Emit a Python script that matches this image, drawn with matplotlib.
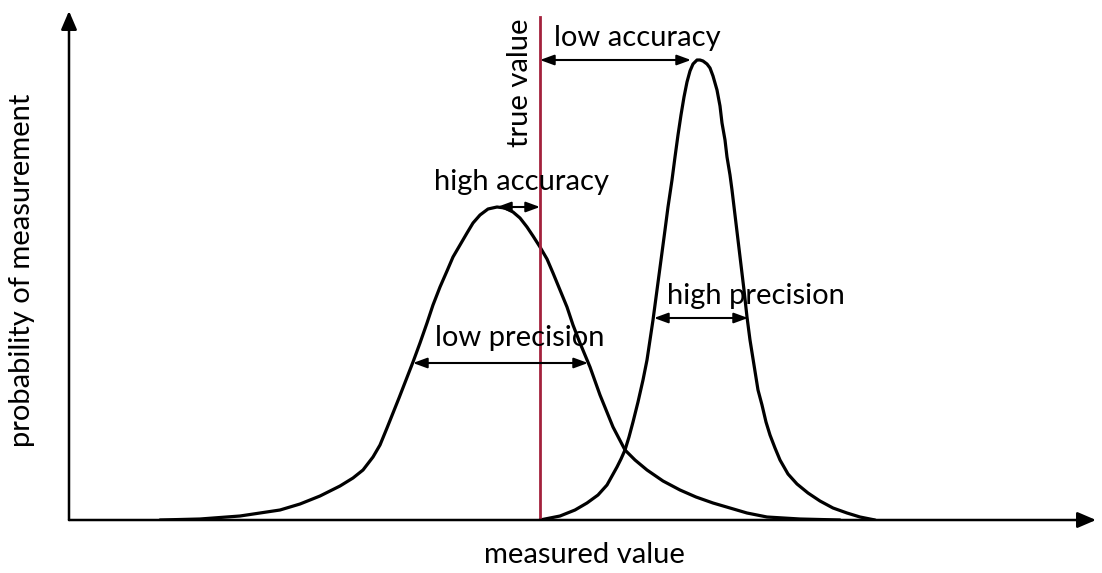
import matplotlib.pyplot as plt

plt.rcParams["font.family"] = ["Lato", "DejaVu Sans"]

wide_x = [91, 131, 171, 211, 231, 251, 271, 284, 294, 304,
          311, 318, 324, 330, 337, 344, 351, 358, 364, 371,
          378, 384, 391, 398, 404, 411, 419, 428, 436, 444,
          451, 458, 464, 471, 478, 484, 491, 498, 504, 511,
          521, 531, 544, 556, 566, 578, 594, 611, 627, 644,
          678, 698, 731, 771]
wide_y = [0, 1, 4, 10, 16, 24, 34, 42, 50, 63,
          75, 92, 107, 122, 140, 158, 177, 197, 215, 233,
          249, 263, 275, 287, 297, 305, 311, 313, 312, 308,
          302, 293, 284, 273, 261, 247, 230, 213, 195, 177,
          153, 125, 93, 70, 60, 50, 39, 30, 23, 17,
          7, 3, 1, 0]

narrow_x = [471, 491, 506, 518, 529, 538, 548, 552, 556, 560, 564, 569,
            574, 578, 581, 584, 588, 592, 596, 599, 603, 606,
            609, 612, 615, 618, 621, 624, 628, 631, 634, 638,
            641, 644, 648, 651, 653, 656, 658, 661, 663, 666,
            669, 672, 675, 678, 681, 685, 689, 693, 697, 701,
            706, 711, 719, 728, 739, 751, 764, 778, 791, 806]
narrow_y = [0, 4, 10, 17, 25, 35, 53, 61, 70, 83, 98, 118,
            140, 160, 180, 200, 230, 260, 290, 313, 340, 363,
            385, 405, 423, 438, 449, 456, 460, 460, 459, 456,
            452, 444, 430, 414, 397, 380, 363, 345, 330, 305,
            280, 255, 230, 203, 180, 155, 130, 115, 98, 85,
            72, 60, 46, 36, 27, 19, 12, 7, 3, 0]

true_value = 471
wide_peak = (428, 313)
narrow_peak = (622, 460)
wide_halfwidth = (344, 519, 157)
narrow_halfwidth = (585, 679, 202)

fig = plt.figure(figsize=(11.02, 5.73), dpi=100)
ax = fig.add_axes([69 / 1102, 53 / 573, 1021 / 1102, 505 / 573])
ax.set_xlim(0, 1021)
ax.set_ylim(0, 505)
ax.axis("off")

# axes with arrow heads
axis_style = dict(arrowstyle="-|>,head_length=0.7,head_width=0.3", color="black",
                  lw=1.8, shrinkA=0, shrinkB=0, mutation_scale=16)
ax.annotate("", xy=(1027, 0), xytext=(0, 0), arrowprops=axis_style, annotation_clip=False)
ax.annotate("", xy=(0, 509), xytext=(0, 0), arrowprops=axis_style, annotation_clip=False)

ax.plot(wide_x, wide_y, color="black", lw=2.3, solid_capstyle="round", solid_joinstyle="round")
ax.plot(narrow_x, narrow_y, color="black", lw=2.3, solid_capstyle="round", solid_joinstyle="round")

ax.plot([true_value, true_value], [0, 503], color="#a3213c", lw=2.0)

dbl = dict(arrowstyle="<|-|>,head_length=0.6,head_width=0.22", color="black",
           lw=1.5, shrinkA=0, shrinkB=0, mutation_scale=14)
ax.annotate("", xy=(true_value, narrow_peak[1]), xytext=(narrow_peak[0], narrow_peak[1]),
            arrowprops=dbl)
ax.annotate("", xy=(wide_peak[0], wide_peak[1]), xytext=(true_value, wide_peak[1]),
            arrowprops=dbl)
ax.annotate("", xy=(wide_halfwidth[0], wide_halfwidth[2]),
            xytext=(wide_halfwidth[1], wide_halfwidth[2]), arrowprops=dbl)
ax.annotate("", xy=(narrow_halfwidth[0], narrow_halfwidth[2]),
            xytext=(narrow_halfwidth[1], narrow_halfwidth[2]), arrowprops=dbl)

fs = 21
ax.text(568, 482, "low accuracy", fontsize=fs, ha="center", va="center")
ax.text(453, 338, "high accuracy", fontsize=fs, ha="center", va="center")
ax.text(451, 182, "low precision", fontsize=fs, ha="center", va="center")
ax.text(687, 224, "high precision", fontsize=fs, ha="center", va="center")
ax.text(451, 437, "true value", fontsize=fs, ha="center", va="center", rotation=90)

fig.text(584 / 1102, 1 - 555 / 573, "measured value", fontsize=fs, ha="center", va="center")
fig.text(22 / 1102, 1 - 270 / 573, "probability of measurement", fontsize=fs,
         ha="center", va="center", rotation=90)

fig.savefig("out.png", dpi=100)
